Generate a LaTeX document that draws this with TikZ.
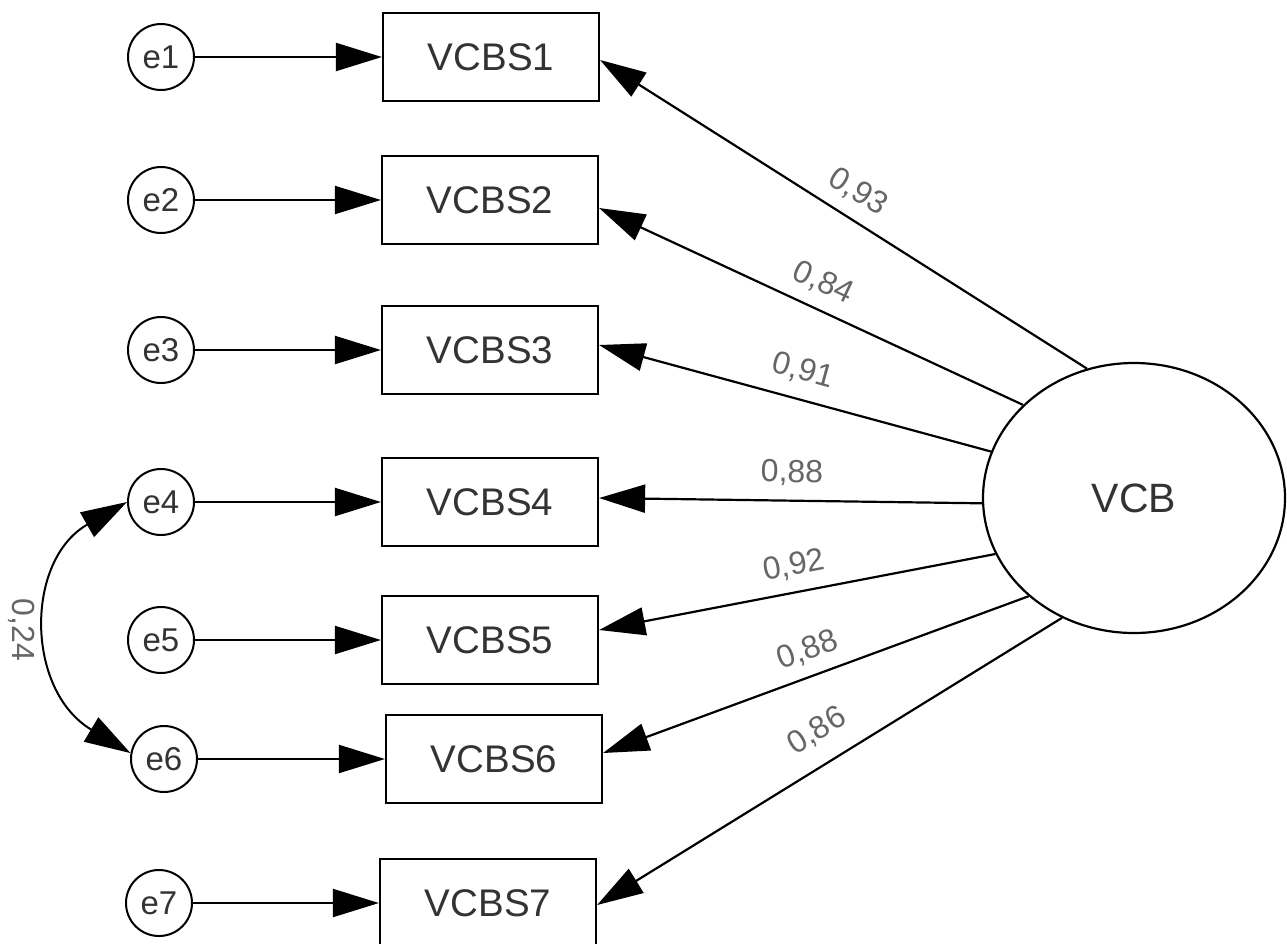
\documentclass[tikz,border=0pt]{standalone}
\usepackage{fontspec}
\setmainfont{Liberation Sans}
\usetikzlibrary{arrows.meta,shapes.geometric}
\begin{document}
\begin{tikzpicture}[x=1pt,y=-1pt,
  obs/.style={draw, line width=2.2pt, minimum width=216pt, minimum height=88pt, inner sep=0pt, font=\fontsize{38.5}{42}\selectfont, text=black!80},
  err/.style={draw, circle, line width=2pt, minimum size=66pt, inner sep=0pt, font=\fontsize{33}{36}\selectfont, text=black!80},
  lat/.style={draw, ellipse, line width=2.2pt, minimum width=302pt, minimum height=270pt, inner sep=0pt, font=\fontsize{41}{45}\selectfont, text=black!80},
  conn/.style={line width=2.2pt, -{Triangle[length=46pt,width=28pt]}},
  tip/.tip={Triangle[length=46pt,width=28pt]},
  lab/.style={font=\fontsize{32}{36}\selectfont, text=black!60, inner sep=0pt}
]
\useasboundingbox (0,0) rectangle (1287,943);
% observed variables
\node[obs] (b1) at (491,57) {VCBS1};
\node[obs] (b2) at (490,200) {VCBS2};
\node[obs] (b3) at (490,350) {VCBS3};
\node[obs] (b4) at (490,502) {VCBS4};
\node[obs] (b5) at (490,640) {VCBS5};
\node[obs] (b6) at (494,759) {VCBS6};
\node[obs] (b7) at (488,903) {VCBS7};
% errors
\node[err] (e1) at (161,57) {e1};
\node[err] (e2) at (161,200) {e2};
\node[err] (e3) at (161,350) {e3};
\node[err] (e4) at (161,502) {e4};
\node[err] (e5) at (161,640) {e5};
\node[err] (e6) at (164,759) {e6};
\node[err] (e7) at (159,903) {e7};
% latent
\node[lat] (vcb) at (1134,498) {VCB};
% error paths
\draw[conn] (e1) -- (b1);
\draw[conn] (e2) -- (b2);
\draw[conn] (e3) -- (b3);
\draw[conn] (e4) -- (b4);
\draw[conn] (e5) -- (b5);
\draw[conn] (e6) -- (b6);
\draw[conn] (e7) -- (b7);
% loadings
\draw[conn] (vcb.110.4) -- ([yshift=-3pt]b1.east);
\draw[conn] (vcb.140.9) -- ([yshift=-8pt]b2.east);
\draw[conn] (vcb.162.4) -- ([yshift=5pt]b3.east);
\draw[conn] (vcb.182.3) -- ([yshift=4pt]b4.east);
\draw[conn] (vcb.202.3) -- ([yshift=10pt]b5.east);
\draw[conn] (vcb.223.9) -- ([yshift=6pt]b6.east);
\draw[conn] (vcb.239.8) -- ([yshift=-2pt]b7.east);
% covariance
\draw[line width=2pt, tip-tip] (e4.west) .. controls (25,560) and (25,690) .. (e6.170);
\node[lab, rotate=-90] (c46) at (22,630) {0,24};
% loading labels
\node[lab, rotate=-32.4] (l1) at (858,192) {0,93};
\node[lab, rotate=-25.2] (l2) at (823,283) {0,84};
\node[lab, rotate=-15.4] (l3) at (803,371) {0,91};
\node[lab, rotate=-0.9] (l4) at (792,473) {0,88};
\node[lab, rotate=10.75] (l5) at (794,566) {0,92};
\node[lab, rotate=20] (l6) at (808,650) {0,88};
\node[lab, rotate=31.4] (l7) at (817,731) {0,86};
\end{tikzpicture}
\end{document}
